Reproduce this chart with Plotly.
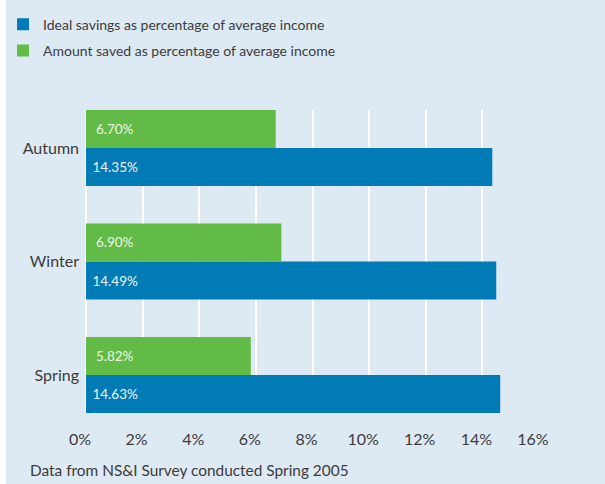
import plotly.graph_objects as go

# Survey seasons (bottom to top on the chart)
seasons = ["Spring", "Winter", "Autumn"]
ideal_savings = [14.63, 14.49, 14.35]
amount_saved = [5.82, 6.90, 6.70]
x_ticks = [0, 2, 4, 6, 8, 10, 12, 14, 16]
x_tick_labels = [f"{v}%" for v in x_ticks]

BLUE = "#007bb6"
GREEN = "#62bb46"
PANEL = "#dde9f3"
TEXT = "#3c3c3c"
FONT = "Lato"

fig = go.Figure()
fig.add_trace(go.Bar(
    y=seasons, x=ideal_savings, orientation="h",
    name="Ideal savings as percentage of average income",
    legendgroup="ideal",
    marker=dict(color=BLUE, line=dict(width=0)),
    text=[f" {v:.2f}%" for v in ideal_savings],
    textposition="inside", insidetextanchor="start",
    textfont=dict(color="#eef4f8", size=13.5, family=FONT),
    constraintext="none",
))
fig.add_trace(go.Bar(
    y=seasons, x=amount_saved, orientation="h",
    name="Amount saved as percentage of average income",
    legendgroup="saved",
    marker=dict(color=GREEN, line=dict(width=0)),
    text=[f"  {v:.2f}%" for v in amount_saved],
    textposition="inside", insidetextanchor="start",
    textfont=dict(color="#eef6e8", size=13.5, family=FONT),
    constraintext="none",
))

fig.update_layout(
    width=605, height=484,
    margin=dict(l=86, r=66, t=110, b=71, autoexpand=False),
    paper_bgcolor=PANEL, plot_bgcolor=PANEL,
    barmode="group", bargap=0.33, bargroupgap=0,
    uniformtext=dict(minsize=12, mode="show"),
    font=dict(family=FONT, color=TEXT, size=14),
    showlegend=True,
    legend=dict(
        xref="container", yref="container",
        x=0.005, y=0.982, xanchor="left", yanchor="top",
        traceorder="grouped", tracegroupgap=5,
        bgcolor="rgba(0,0,0,0)",
        font=dict(size=14, color=TEXT, family=FONT),
        itemclick=False, itemdoubleclick=False,
    ),
    xaxis=dict(
        range=[0, 16], tickvals=x_ticks, ticktext=x_tick_labels,
        tickangle=0,
        showgrid=True, gridcolor="white", gridwidth=2,
        zeroline=True, zerolinecolor="white", zerolinewidth=2,
        showline=False, ticks="", ticklabelstandoff=15, ticklabelshift=-6,
        tickfont=dict(size=16, color=TEXT),
        fixedrange=True,
    ),
    yaxis=dict(
        categoryorder="array", categoryarray=seasons,
        range=[-0.335, 2.335],
        showgrid=False, zeroline=False, showline=False, ticks="",
        ticklabelstandoff=6,
        tickfont=dict(size=16, color=TEXT),
        fixedrange=True,
    ),
    shapes=[dict(
        type="rect", xref="paper", yref="paper",
        x0=-86 / 453, x1=-80 / 453, y0=-1, y1=2,
        fillcolor="white", line=dict(width=0), layer="above",
    )],
    annotations=[dict(
        text="Data from NS&I Survey conducted Spring 2005",
        xref="paper", yref="paper", x=-58 / 453, y=-57 / 303,
        xanchor="left", yanchor="middle", showarrow=False,
        font=dict(size=15.4, color=TEXT, family=FONT),
    )],
)

fig.write_html("out.html")
